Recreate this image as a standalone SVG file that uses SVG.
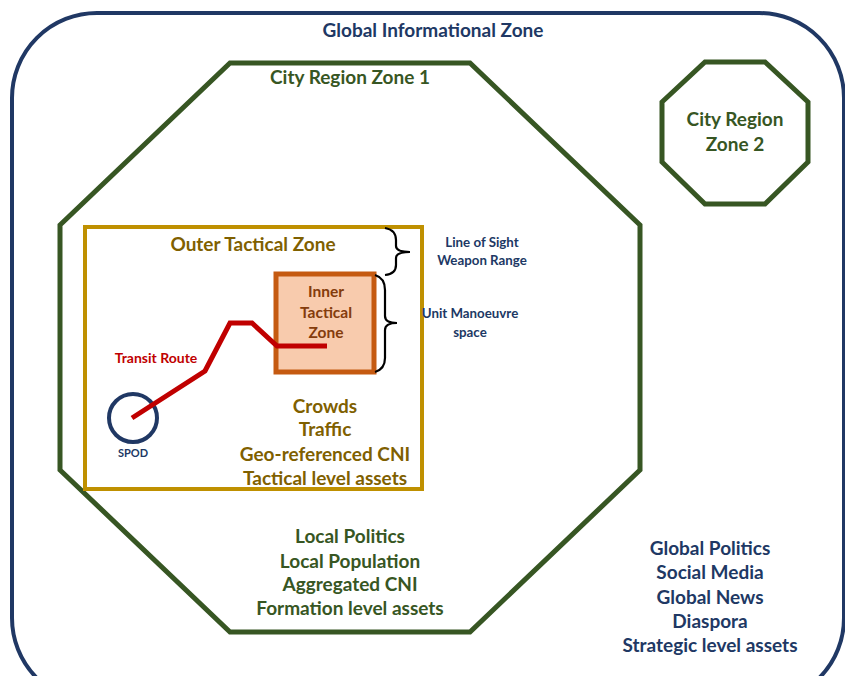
<svg xmlns="http://www.w3.org/2000/svg" width="845" height="676" viewBox="0 0 845 676">
  <style>
    text { font-family: Lato, "Liberation Sans", sans-serif; font-weight: 700; text-anchor: middle; }
    .navy { fill: #203864; }
    .green { fill: #375623; }
    .gold { fill: #7F6000; }
    .brown { fill: #843C0C; }
    .red { fill: #C00000; }
    .t17 { font-size: 19px; }
    .t12 { font-size: 13.3px; }
    .brace { fill: none; stroke: #000; stroke-width: 2.2; }
  </style>
  <rect width="845" height="676" fill="#fff"/>

  <!-- Global informational zone -->
  <g id="global-zone">
    <rect x="12" y="13" width="832" height="690" rx="85" ry="85" fill="none" stroke="#203864" stroke-width="4"/>
    <text class="navy t17" x="433" y="37">Global Informational Zone</text>
    <text class="navy t17" x="710" y="555">Global Politics</text>
    <text class="navy t17" x="710" y="579">Social Media</text>
    <text class="navy t17" x="710" y="604">Global News</text>
    <text class="navy t17" x="710" y="628">Diaspora</text>
    <text class="navy t17" x="710" y="652">Strategic level assets</text>
  </g>

  <!-- City region zone 1 -->
  <g id="city-zone-1">
    <polygon points="230,63 470,63 640,225 640,470 470,632 230,632 60,470 60,225" fill="none" stroke="#375623" stroke-width="5"/>
    <text class="green t17" x="350" y="84">City Region Zone 1</text>
    <text class="green t17" x="350" y="543">Local Politics</text>
    <text class="green t17" x="350" y="568">Local Population</text>
    <text class="green t17" x="350" y="591">Aggregated CNI</text>
    <text class="green t17" x="350" y="615">Formation level assets</text>
  </g>

  <!-- City region zone 2 -->
  <g id="city-zone-2">
    <polygon points="705,62 765,62 808,102 808,162 765,204 705,204 662,162 662,102" fill="none" stroke="#375623" stroke-width="5"/>
    <text class="green t17" x="735" y="126">City Region</text>
    <text class="green t17" x="735" y="151">Zone 2</text>
  </g>

  <!-- Outer tactical zone -->
  <g id="outer-tactical-zone">
    <rect x="85" y="227" width="337" height="262" fill="none" stroke="#BF9000" stroke-width="4"/>
    <text class="gold t17" x="253" y="251">Outer Tactical Zone</text>
    <text class="gold t17" x="325" y="413">Crowds</text>
    <text class="gold t17" x="325" y="436">Traffic</text>
    <text class="gold t17" x="325" y="461">Geo-referenced CNI</text>
    <text class="gold t17" x="325" y="485">Tactical level assets</text>
  </g>

  <!-- Inner tactical zone -->
  <g id="inner-tactical-zone">
    <rect x="276" y="274" width="98" height="98" fill="#F8CBAD" stroke="#C55A11" stroke-width="5"/>
    <text class="brown" style="font-size:15.5px" x="326" y="297">Inner</text>
    <text class="brown" style="font-size:15.5px" x="326" y="318">Tactical</text>
    <text class="brown" style="font-size:15.5px" x="326" y="338">Zone</text>
  </g>

  <!-- SPOD -->
  <g id="spod">
    <circle cx="133" cy="418" r="24" fill="none" stroke="#203864" stroke-width="4"/>
    <text class="navy" style="font-size:11px" x="133" y="457">SPOD</text>
  </g>

  <!-- Connectors: transit route and range braces -->
  <g id="connectors">
    <polyline points="132,418 205,371 230,323 252,323 277,346 327,346" fill="none" stroke="#C00000" stroke-width="5"/>
    <path class="brace" d="M385,228 Q396,230 396,240 L396,246 Q396,252 410,252 Q396,252 396,258 L396,265 Q396,274 385,275"/>
    <path class="brace" d="M375,275 Q385,278 385,290 L385,316 Q385,323 397,323 Q385,323 385,330 L385,358 Q385,369 375,372"/>
  </g>

  <!-- Brace labels -->
  <g id="labels">
    <text class="red" style="font-size:14px" x="156" y="363">Transit Route</text>
    <text class="navy t12" x="482" y="247">Line of Sight</text>
    <text class="navy t12" x="482" y="265">Weapon Range</text>
    <text class="navy t12" x="470" y="318">Unit Manoeuvre</text>
    <text class="navy t12" x="470" y="337">space</text>
  </g>
</svg>
